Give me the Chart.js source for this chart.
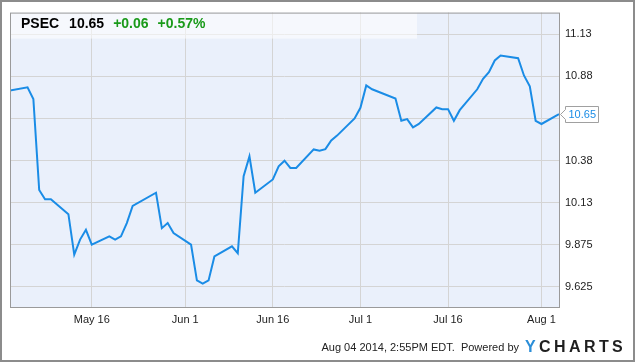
<!DOCTYPE html>
<html>
<head>
<meta charset="utf-8">
<script src="https://cdn.jsdelivr.net/npm/chart.js@4.4.1/dist/chart.umd.min.js"></script>
<style>
  html, body { margin: 0; padding: 0; background: #fff; }
  #wrap { width: 635px; height: 362px; position: relative; }
</style>
</head>
<body>
<div id="wrap"><canvas id="psecChart" width="635" height="362"></canvas></div>
<script>
// Données (clôtures PSEC)
const DATES = [
  '2014-05-02','2014-05-05','2014-05-06','2014-05-07','2014-05-08','2014-05-09',
  '2014-05-12','2014-05-13','2014-05-14','2014-05-15','2014-05-16',
  '2014-05-19','2014-05-20','2014-05-21','2014-05-22','2014-05-23',
  '2014-05-27','2014-05-28','2014-05-29','2014-05-30',
  '2014-06-02','2014-06-03','2014-06-04','2014-06-05','2014-06-06',
  '2014-06-09','2014-06-10','2014-06-11','2014-06-12','2014-06-13',
  '2014-06-16','2014-06-17','2014-06-18','2014-06-19','2014-06-20',
  '2014-06-23','2014-06-24','2014-06-25','2014-06-26','2014-06-27',
  '2014-06-30','2014-07-01','2014-07-02','2014-07-03',
  '2014-07-07','2014-07-08','2014-07-09','2014-07-10','2014-07-11',
  '2014-07-14','2014-07-15','2014-07-16','2014-07-17','2014-07-18',
  '2014-07-21','2014-07-22','2014-07-23','2014-07-24','2014-07-25',
  '2014-07-28','2014-07-29','2014-07-30','2014-07-31','2014-08-01',
  '2014-08-04'
];
const PRICES = [
  10.79, 10.81, 10.74, 10.20, 10.145, 10.145,
  10.057, 9.817, 9.906, 9.964, 9.876,
  9.925, 9.906, 9.925, 10.004, 10.106,
  10.184, 9.974, 10.004, 9.945,
  9.876, 9.664, 9.645, 9.664, 9.806,
  9.866, 9.825, 10.282, 10.40, 10.184,
  10.263, 10.341, 10.374, 10.331, 10.331,
  10.441, 10.433, 10.443, 10.494, 10.523,
  10.625, 10.688, 10.821, 10.798,
  10.743, 10.611, 10.621, 10.572, 10.592,
  10.69, 10.68, 10.68, 10.611, 10.674,
  10.798, 10.86, 10.90, 10.969, 10.998,
  10.982, 10.88, 10.816, 10.611, 10.592,
  10.65
];

const X_TICK_DATES = ['2014-05-16','2014-06-01','2014-06-16','2014-07-01','2014-07-16','2014-08-01'];
const X_TICK_LABELS = ['May 16','Jun 1','Jun 16','Jul 1','Jul 16','Aug 1'];
const Y_TICKS = [9.625, 9.875, 10.125, 10.375, 10.625, 10.875, 11.125];
const Y_TICK_LABELS = ['9.625','9.875','10.13','10.38','','10.88','11.13'];

const TICKER = 'PSEC';
const LAST_PRICE = '10.65';
const CHANGE = '+0.06';
const CHANGE_PCT = '+0.57%';
const FOOTER = 'Aug 04 2014, 2:55PM EDT.  Powered by';

// --- conversion date -> jours depuis le 1er mai ---
function dayNum(s) {
  const p = s.split('-').map(Number);
  return (Date.UTC(p[0], p[1] - 1, p[2]) - Date.UTC(2014, 4, 1)) / 86400000;
}
const points = DATES.map((d, i) => ({ x: dayNum(d), y: PRICES[i] }));
const xTickValues = X_TICK_DATES.map(dayNum);

const FONT = '"Liberation Sans", Arial, sans-serif';

// fond, bandeau titre, bordures, étiquette de dernier prix, pied de page
const decorPlugin = {
  id: 'decor',
  beforeDraw(chart) {
    const { ctx, chartArea: a } = chart;
    ctx.save();
    ctx.fillStyle = '#eaf0fb';
    ctx.fillRect(a.left, a.top, a.right - a.left, a.bottom - a.top);
    ctx.restore();
  },
  beforeDatasetsDraw(chart) {
    const { ctx, chartArea: a } = chart;
    ctx.save();
    ctx.fillStyle = 'rgba(255,255,255,0.55)';
    ctx.fillRect(a.left, a.top, 407, 26);
    ctx.textBaseline = 'middle';
    ctx.font = 'bold 14px ' + FONT;
    let x = 21;
    const y = 24;
    ctx.fillStyle = '#000';
    ctx.fillText(TICKER, x, y); x += ctx.measureText(TICKER).width + 10;
    ctx.fillText(LAST_PRICE, x, y); x += ctx.measureText(LAST_PRICE).width + 9;
    ctx.fillStyle = '#1a9a1a';
    ctx.fillText(CHANGE, x, y); x += ctx.measureText(CHANGE).width + 9;
    ctx.fillText(CHANGE_PCT, x, y);
    ctx.restore();
  },
  afterDraw(chart) {
    const { ctx, chartArea: a } = chart;
    ctx.save();
    // bordure du graphique
    ctx.strokeStyle = '#9a9a9a';
    ctx.lineWidth = 1;
    ctx.strokeRect(a.left + 0.5, a.top + 0.5, a.right - a.left, a.bottom - a.top);
    // bordure extérieure
    ctx.strokeStyle = '#8c8c8c';
    ctx.lineWidth = 2;
    ctx.strokeRect(1, 1, chart.width - 2, chart.height - 2);

    // étiquette du dernier prix
    const meta = chart.getDatasetMeta(0);
    const last = meta.data[meta.data.length - 1];
    const ty = Math.round(last.y) + 0.5;
    const tx = a.right + 1.5;
    ctx.beginPath();
    ctx.moveTo(tx, ty);
    ctx.lineTo(tx + 5, ty - 5);
    ctx.lineTo(tx + 5, ty - 8);
    ctx.lineTo(tx + 38, ty - 8);
    ctx.lineTo(tx + 38, ty + 8);
    ctx.lineTo(tx + 5, ty + 8);
    ctx.lineTo(tx + 5, ty + 5);
    ctx.closePath();
    ctx.fillStyle = '#fff';
    ctx.fill();
    ctx.strokeStyle = '#a0a0a0';
    ctx.lineWidth = 1;
    ctx.stroke();
    ctx.fillStyle = '#1a8ce6';
    ctx.font = '11px ' + FONT;
    ctx.textBaseline = 'middle';
    ctx.fillText(LAST_PRICE, tx + 8, ty + 0.5);

    // pied de page
    ctx.fillStyle = '#222';
    ctx.font = '11px ' + FONT;
    ctx.textAlign = 'right';
    ctx.textBaseline = 'middle';
    ctx.fillText(FOOTER, 519, 348);
    ctx.textAlign = 'left';
    ctx.font = 'bold 16px ' + FONT;
    let lx = 525;
    'YCHARTS'.split('').forEach((ch, i) => {
      ctx.fillStyle = i === 0 ? '#2b8ed8' : '#1f1f1f';
      ctx.fillText(ch, lx, 348);
      lx += ctx.measureText(ch).width + 3.4;
    });
    ctx.restore();
  }
};

const ctx = document.getElementById('psecChart').getContext('2d');
new Chart(ctx, {
  type: 'line',
  data: {
    datasets: [{
      label: TICKER,
      data: points,
      borderColor: '#1a8ce6',
      borderWidth: 2,
      pointRadius: 0,
      tension: 0,
      fill: false
    }]
  },
  options: {
    responsive: false,
    animation: false,
    layout: { padding: { left: 10, top: 10, right: 0, bottom: 0 } },
    plugins: { legend: { display: false }, tooltip: { enabled: false } },
    scales: {
      x: {
        type: 'linear',
        min: dayNum('2014-05-02'),
        max: dayNum('2014-08-04'),
        afterBuildTicks(scale) { scale.ticks = xTickValues.map(v => ({ value: v })); },
        afterFit(scale) { scale.height = 55; },
        grid: { color: '#d4d4d4', drawTicks: false },
        border: { display: false },
        ticks: {
          autoSkip: false, maxRotation: 0, padding: 6,
          color: '#222', font: { family: FONT, size: 11 },
          callback: (v) => {
            const i = xTickValues.indexOf(v);
            return i >= 0 ? X_TICK_LABELS[i] : '';
          }
        }
      },
      y: {
        position: 'right',
        min: 9.506,
        max: 11.253,
        afterBuildTicks(scale) { scale.ticks = Y_TICKS.map(v => ({ value: v })); },
        afterFit(scale) { scale.width = 76; },
        grid: { color: '#d4d4d4', drawTicks: false },
        border: { display: false },
        ticks: {
          autoSkip: false, padding: 6,
          color: '#222', font: { family: FONT, size: 11 },
          callback: (v) => {
            const i = Y_TICKS.indexOf(v);
            return i >= 0 ? Y_TICK_LABELS[i] : '';
          }
        }
      }
    }
  },
  plugins: [decorPlugin]
});
</script>
</body>
</html>
